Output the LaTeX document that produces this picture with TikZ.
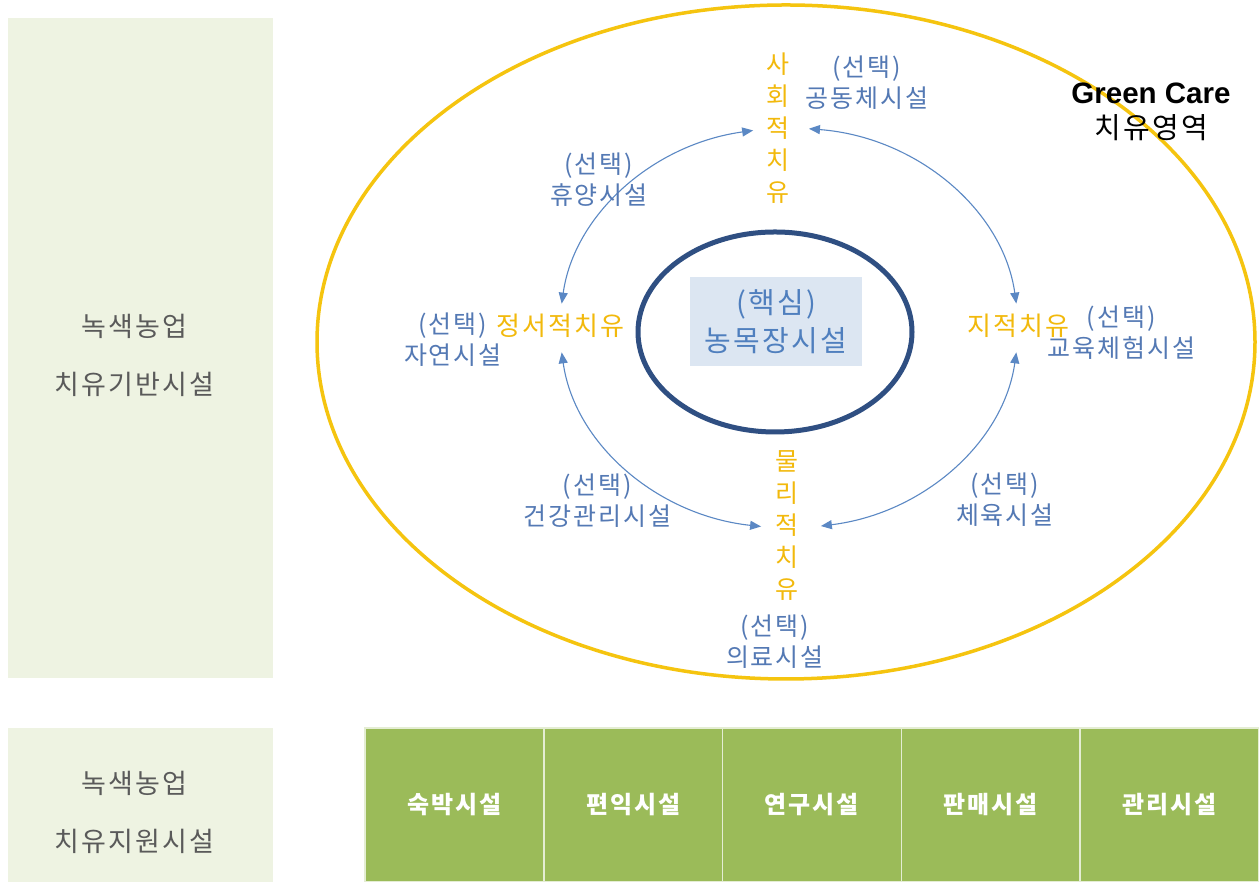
\documentclass[tikz,border=0pt]{standalone}
\usepackage{fontspec}
\setmainfont{Noto Sans CJK KR}[LetterSpace=8]
\newfontfamily\latinfont{Liberation Sans}
\usepackage{xcolor}
\usepackage{tikz}
\usetikzlibrary{arrows.meta,positioning,calc}
\definecolor{sidegreen}{HTML}{EEF3E2}
\definecolor{sidegray}{HTML}{5A5A5A}
\definecolor{cellgreen}{HTML}{9BBB59}
\definecolor{cellline}{HTML}{E4EDD3}
\definecolor{careyellow}{HTML}{F5C40F}
\definecolor{healyellow}{HTML}{F2B90C}
\definecolor{optblue}{HTML}{5479B4}
\definecolor{ringblue}{HTML}{5B88C4}
\definecolor{corenavy}{HTML}{2F4F82}
\definecolor{corefill}{HTML}{DCE6F2}
\definecolor{coretext}{HTML}{4F7FBE}
\newcommand{\ringarc}[2]{\draw[ringline] ([shift={(#1:229 and 200)}]ring) arc[start angle=#1, end angle=#2, x radius=229, y radius=200];}

\begin{document}
\begin{tikzpicture}[x=1pt, y=1pt,
  sidebox/.style={fill=sidegreen, minimum width=265pt},
  sidetext/.style={text=sidegray, align=center, font=\fontsize{27}{58}\selectfont},
  cell/.style={fill=cellgreen, draw=cellline, line width=1.5pt, minimum width=178.8pt, minimum height=154pt, outer sep=0pt, text=white, font=\bfseries\fontsize{24}{28}\selectfont},
  optlabel/.style={text=optblue, align=center, font=\fontsize{25}{31}\selectfont},
  healv/.style={text=healyellow, align=center, font=\fontsize{25}{32}\selectfont},
  healh/.style={text=healyellow, font=\fontsize{26}{30}\selectfont},
  ringline/.style={draw=ringblue, line width=1.1pt, arrows={Triangle[length=11pt,width=9pt]-Triangle[length=11pt,width=9pt]}}
]
\fill[white] (0,0) rectangle (1259,882);
\useasboundingbox (0,0) rectangle (1259,882);

\node[sidebox, minimum height=660pt] (basebox) at (140.5,534) {};
\node[sidebox, minimum height=154pt] (supportbox) at (140.5,77) {};
\node[sidetext] (basetext) at ([shift={(-6,-7)}]basebox.center) {녹색농업\\치유기반시설};
\node[sidetext] (supporttext) at ([shift={(-6,-7)}]supportbox.center) {녹색농업\\치유지원시설};

\node[cell, anchor=south west] (lodge) at (365,0) {숙박시설};
\node[cell, right=0pt of lodge] (amenity) {편익시설};
\node[cell, right=0pt of amenity] (research) {연구시설};
\node[cell, right=0pt of research] (sales) {판매시설};
\node[cell, right=0pt of sales] (admin) {관리시설};

\draw[careyellow, line width=3.5pt] (786,540) ellipse [x radius=469, y radius=337];

\coordinate (ring) at (789,554);
\ringarc{99}{173}
\ringarc{85}{7}
\ringarc{187}{263}
\ringarc{353}{278}

\draw[corenavy, line width=5pt] (775,550) ellipse [x radius=137, y radius=100];
\node[fill=corefill, minimum width=172pt, minimum height=89pt, text=coretext, align=center, font=\fontsize{29}{38}\selectfont] (core) at (776,560.5) {(핵심)\\농목장시설};

\node[healv] (social) at (778,754) {사\\회\\적\\치\\유};
\node[healv] (physical) at (787,356) {물\\리\\적\\치\\유};
\node[healh] (emotional) at (560,556) {정서적치유};
\node[healh] (intellect) at (1018,556) {지적치유};

\node[optlabel] (community) at (867,799.5) {(선택)\\공동체시설};
\node[optlabel] (resort) at (599,702.5) {(선택)\\휴양시설};
\node[optlabel] (nature) at (453,542.5) {(선택)\\자연시설};
\node[optlabel] (education) at (1121,549) {(선택)\\교육체험시설};
\node[optlabel] (health) at (597,381) {(선택)\\건강관리시설};
\node[optlabel] (sports) at (1005,382) {(선택)\\체육시설};
\node[optlabel] (medical) at (775,240) {(선택)\\의료시설};

\node[align=center, font=\fontsize{29}{35}\selectfont] (greencare) at (1151,770) {{\latinfont\bfseries\fontsize{29.5}{35}\selectfont Green Care}\\치유영역};
\end{tikzpicture}
\end{document}
